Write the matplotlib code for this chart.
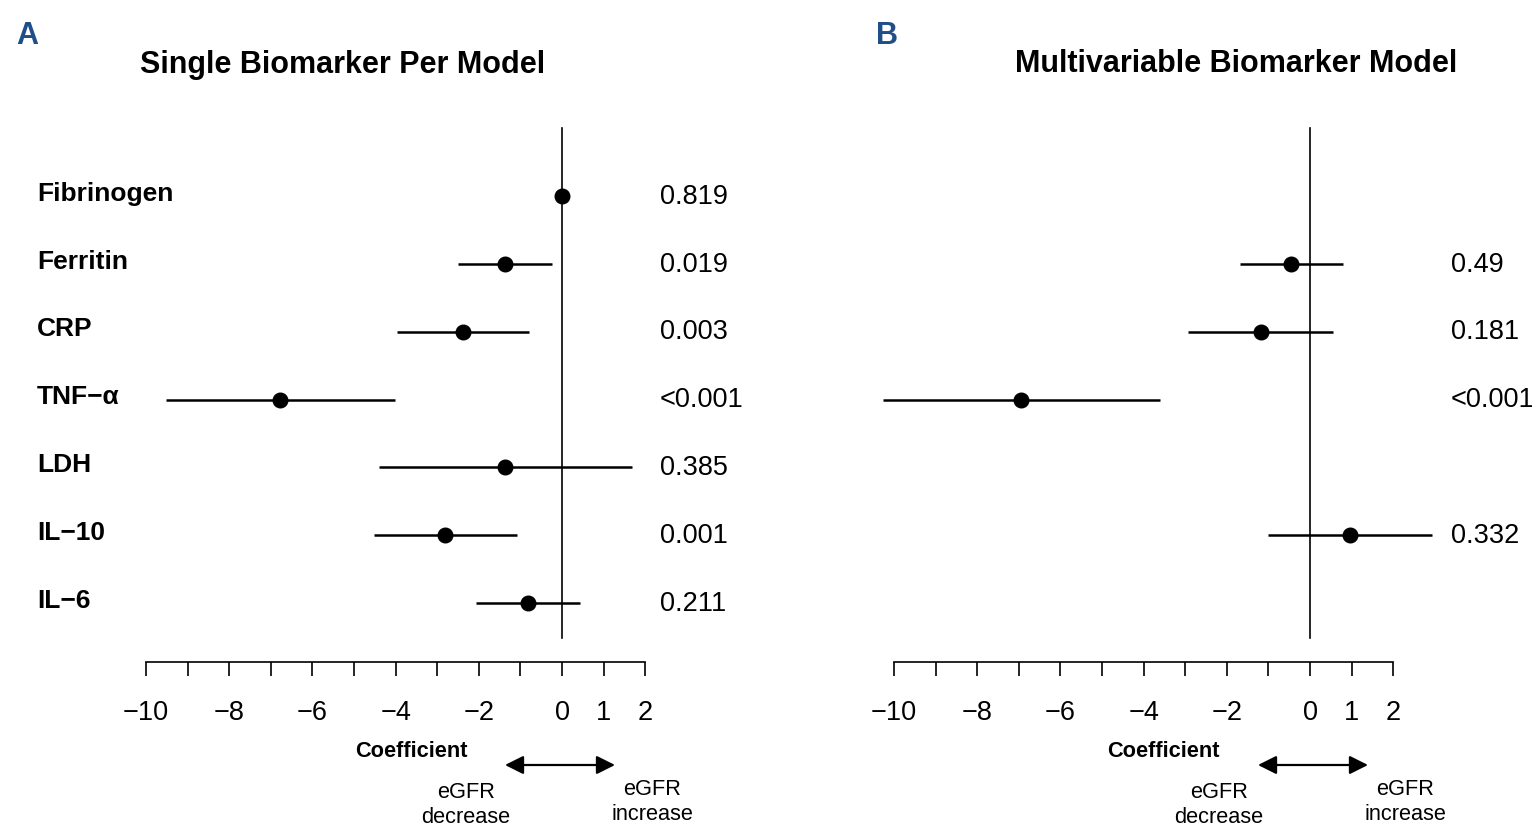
import numpy as np
import matplotlib
matplotlib.use('Agg')
import matplotlib.pyplot as plt
from matplotlib.patches import FancyArrowPatch
from matplotlib.transforms import blended_transform_factory, ScaledTranslation

plt.rcParams['font.family'] = ['Liberation Sans', 'DejaVu Sans']

# Dados
markers = ['Fibrinogen', 'Ferritin', 'CRP', 'TNF−α', 'LDH', 'IL−10', 'IL−6']
rows = np.array([7, 6, 5, 4, 3, 2, 1])

single_est = [0.0, -1.37, -2.38, -6.78, -1.37, -2.81, -0.82]
single_lo = [-0.05, -2.50, -3.97, -9.52, -4.40, -4.52, -2.07]
single_hi = [0.05, -0.24, -0.79, -4.01, 1.68, -1.08, 0.43]
single_p = ['0.819', '0.019', '0.003', '<0.001', '0.385', '0.001', '0.211']

multi_rows = np.array([6, 5, 4, 2])
multi_est = [-0.46, -1.18, -6.95, 0.96]
multi_lo = [-1.68, -2.93, -10.26, -1.00]
multi_hi = [0.79, 0.55, -3.60, 2.94]
multi_p = ['0.49', '0.181', '<0.001', '0.332']

ticks = list(range(-10, 3))
tick_labels = [str(t).replace('-', '−') if t in (-10, -8, -6, -4, -2, 0, 1, 2) else '' for t in ticks]

W, H = 1532, 826
fig = plt.figure(figsize=(W / 100, H / 100), dpi=100)

scale = 41.6      # px por unidade
ylim = (0.13, 8.006)
xlim = (-11, 2.5)
up = ScaledTranslation(0, 2.5 / 100, fig.dpi_scale_trans)   # pequeno ajuste vertical dos textos


def fx(px):
    return px / W


def fy(py):
    return 1 - py / H


def make_axes(zero_px):
    left = zero_px + xlim[0] * scale
    right = zero_px + xlim[1] * scale
    top, bottom = 128, 662
    ax = fig.add_axes([left / W, 1 - bottom / H, (right - left) / W, (bottom - top) / H])
    ax.set_xlim(xlim)
    ax.set_ylim(ylim)
    for s in ['top', 'right', 'left']:
        ax.spines[s].set_visible(False)
    ax.spines['bottom'].set_bounds(-10, 2)
    ax.spines['bottom'].set_linewidth(1.2)
    ax.set_yticks([])
    ax.set_xticks(ticks)
    ax.set_xticklabels(tick_labels, fontsize=19.5)
    ax.tick_params(axis='x', length=10, width=1.2, pad=17)
    ax.plot([0, 0], [0.484, ylim[1]], color='black', lw=1.2, clip_on=False)
    return ax


def forest(ax, y, est, lo, hi):
    ax.hlines(y, lo, hi, color='black', lw=1.8, clip_on=False)
    ax.plot(est, y, 'o', color='black', ms=10.5, clip_on=False, zorder=3)


# Painel A
axA = make_axes(562)
forest(axA, rows, single_est, single_lo, single_hi)
lab_tr = blended_transform_factory(fig.transFigure, axA.transData) + up
for y, name, p in zip(rows, markers, single_p):
    axA.text(fx(37), y, name, transform=lab_tr, fontsize=19, fontweight='bold',
             va='center', ha='left')
    axA.text((660 - 562) / scale, y, p, transform=axA.transData + up, fontsize=19.5,
             va='center_baseline', ha='left')

# Painel B
axB = make_axes(1310)
forest(axB, multi_rows, multi_est, multi_lo, multi_hi)
for y, p in zip(multi_rows, multi_p):
    axB.text((1451 - 1310) / scale, y, p, transform=axB.transData + up, fontsize=19.5,
             va='center_baseline', ha='left')

# Titulos e letras
fig.text(fx(27), fy(36), 'A', color='#1F4E89', fontsize=22, fontweight='bold', ha='center', va='center')
fig.text(fx(887), fy(36), 'B', color='#1F4E89', fontsize=22, fontweight='bold', ha='center', va='center')
fig.text(fx(343), fy(61), 'Single Biomarker Per Model', fontsize=22, fontweight='bold',
         ha='center', va='center_baseline')
fig.text(fx(1236), fy(61), 'Multivariable Biomarker Model', fontsize=22, fontweight='bold',
         ha='center', va='center_baseline')

# Coeficiente e setas
for cx, a_l, a_r, dec_x, inc_x in [(411, 505, 615, 466, 652), (1163, 1258, 1368, 1219, 1405)]:
    fig.text(fx(cx), fy(749), 'Coefficient', fontsize=15.7, fontweight='bold',
             ha='center', va='center_baseline')
    fig.patches.append(FancyArrowPatch(
        (fx(a_l), fy(765)), (fx(a_r), fy(765)), transform=fig.transFigure,
        arrowstyle='<|-|>', mutation_scale=28, color='black', lw=1.6, shrinkA=0, shrinkB=0))
    fig.text(fx(dec_x), fy(805), 'eGFR\ndecrease', fontsize=15.7, ha='center', va='center',
             linespacing=1.3)
    fig.text(fx(inc_x), fy(802), 'eGFR\nincrease', fontsize=15.7, ha='center', va='center',
             linespacing=1.3)

fig.savefig('out.png', dpi=100)
